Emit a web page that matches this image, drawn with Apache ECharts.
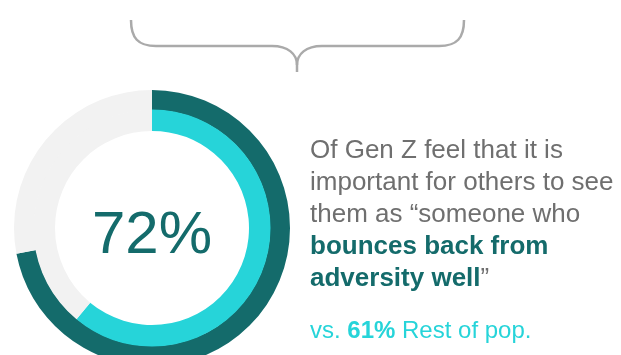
<!DOCTYPE html>
<html>
<head>
<meta charset="utf-8">
<script src="https://cdn.jsdelivr.net/npm/echarts@6/dist/echarts.min.js"></script>
<style>
html,body{margin:0;padding:0;background:#fff;}
#chart{width:621px;height:355px;}
</style>
</head>
<body>
<div id="chart"></div>
<script>
// Data
const groups = ['Gen Z', 'Rest of pop.'];
const shares = [72, 61];           // percent
const centerLabel = '72%';
const textLines = [
  'Of Gen Z feel that it is',
  'important for others to see',
  'them as \u201csomeone who',
  'bounces back from',
  'adversity well'
];
const compareLabel = ['vs. ', '61%', ' Rest of pop.'];

const TEAL = '#146b6b', CYAN = '#26d4d9', GRAY = '#f2f2f2', TXT = '#6f6f6f';
const FONT = '"Liberation Sans", Arial, sans-serif';

const chart = echarts.init(document.getElementById('chart'), null, {renderer: 'canvas'});

function ring(val, color, radius) {
  return {
    type: 'pie',
    center: [152, 228],
    radius: radius,
    startAngle: 90,
    clockwise: true,
    silent: true,
    label: {show: false},
    labelLine: {show: false},
    emphasis: {disabled: true},
    itemStyle: {borderWidth: 0},
    data: [
      {value: val, itemStyle: {color: color}},
      {value: 100 - val, itemStyle: {color: GRAY}}
    ]
  };
}

const braceStyle = {stroke: '#aaaaaa', lineWidth: 2.5, fill: null};
function bz(x1, y1, c1x, c1y, c2x, c2y, x2, y2) {
  return {type: 'bezierCurve', shape: {x1: x1, y1: y1, cpx1: c1x, cpy1: c1y, cpx2: c2x, cpy2: c2y, x2: x2, y2: y2}, style: braceStyle};
}
function ln(x1, y1, x2, y2) {
  return {type: 'line', shape: {x1: x1, y1: y1, x2: x2, y2: y2}, style: braceStyle};
}

chart.setOption({
  animation: false,
  series: [
    ring(shares[0], TEAL, [118, 138]),
    ring(shares[1], CYAN, [97, 118.5])
  ],
  graphic: [
    bz(131, 20, 131, 38, 138, 46, 156, 46),
    ln(156, 46, 272, 46),
    bz(272, 46, 288, 46, 297, 54, 297, 65),
    ln(297, 65, 297, 72),
    bz(322, 46, 306, 46, 297, 54, 297, 65),
    ln(322, 46, 439, 46),
    bz(439, 46, 457, 46, 464, 38, 464, 20),
    {
      type: 'text', x: 152, y: 236,
      style: {text: centerLabel, font: '60px ' + FONT, fill: TEAL, textAlign: 'center', textVerticalAlign: 'middle'}
    },
    {
      type: 'text', x: 310, y: 135,
      style: {
        text: textLines[0] + '\n' + textLines[1] + '\n' + textLines[2] + '\n{b|' + textLines[3] + '}\n{b|' + textLines[4] + '}\u201d',
        font: '26px ' + FONT, fill: TXT, lineHeight: 32,
        rich: {b: {font: 'bold 26px ' + FONT, fill: TEAL, lineHeight: 32}}
      }
    },
    {
      type: 'text', x: 310, y: 316,
      style: {
        text: compareLabel[0] + '{b|' + compareLabel[1] + '}' + compareLabel[2],
        font: '24px ' + FONT, fill: CYAN, lineHeight: 30,
        rich: {b: {font: 'bold 24px ' + FONT, fill: CYAN, lineHeight: 30}}
      }
    }
  ]
});
</script>
</body>
</html>
